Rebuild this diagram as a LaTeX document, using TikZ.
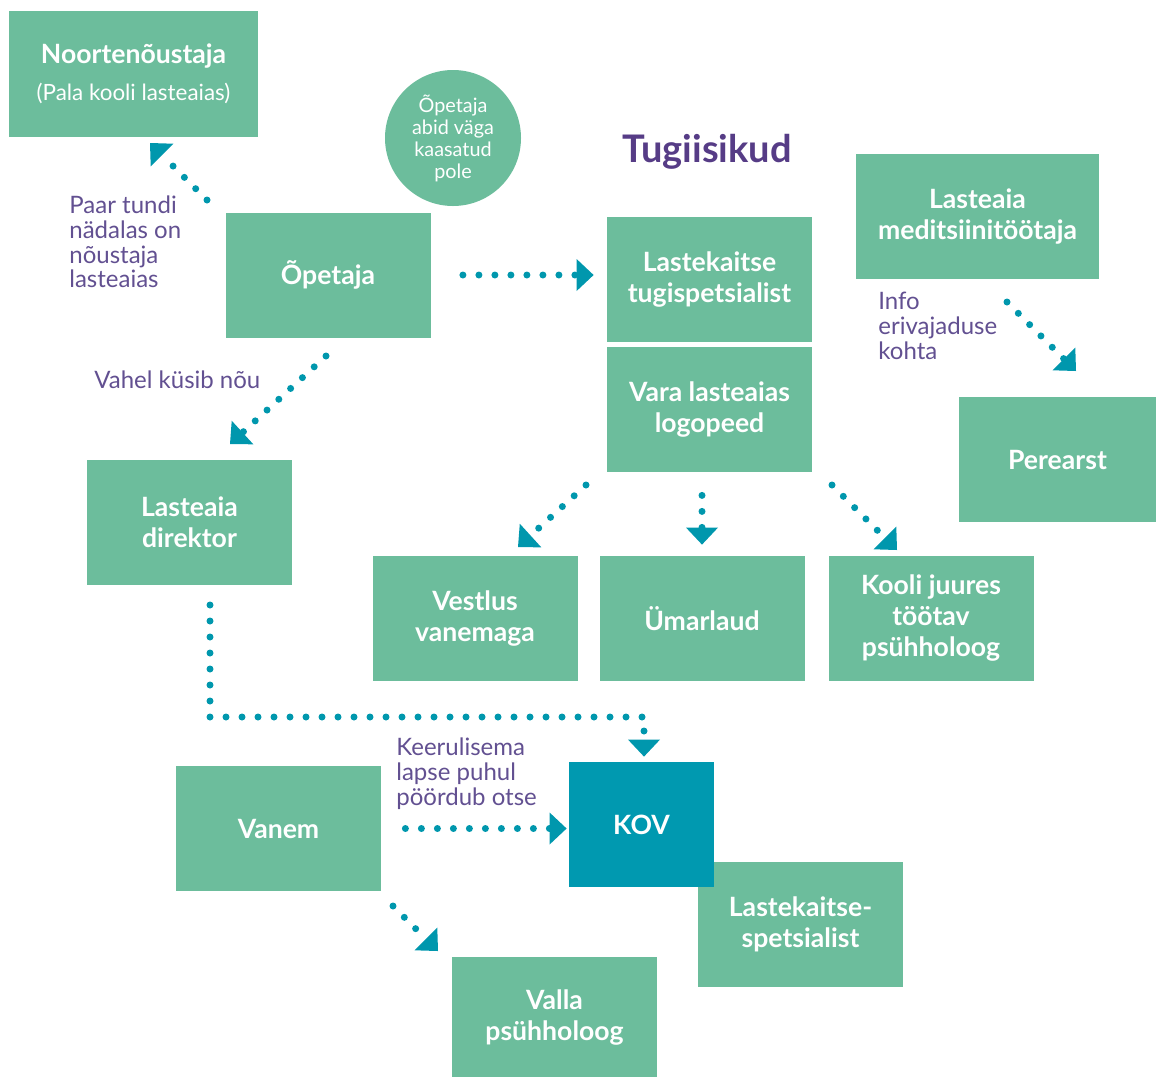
\documentclass[tikz,border=0pt]{standalone}
\usepackage{fontspec}
\setmainfont{Lato}
\usetikzlibrary{arrows.meta}

\definecolor{boxgreen}{RGB}{108,189,156}
\definecolor{kovblue}{RGB}{0,153,176}
\definecolor{arrowblue}{RGB}{0,151,173}
\definecolor{notepurple}{RGB}{98,80,145}
\definecolor{titlepurple}{RGB}{86,60,134}

\tikzset{
	box/.style={fill=boxgreen, text=white, align=center, inner sep=0pt, minimum width=102.5pt, minimum height=62.5pt, font=\bfseries\fontsize{13.3}{15.5}\selectfont},
	note/.style={text=notepurple, align=left, inner sep=0pt, anchor=west, font=\fontsize{12}{12.4}\selectfont},
	dotarrow/.style={draw=arrowblue, line width=3.5pt, line cap=round, dash pattern=on 0pt off 8pt, -{Triangle[length=8.5pt,width=16pt,line width=0pt]}}
}

\begin{document}
\begin{tikzpicture}[x=0.5pt,y=-0.5pt]

	%page frame, same size as the reference
	\useasboundingbox (0,0) rectangle (1156,1077);

	%upper left boxes
	\node[box, minimum width=124.5pt, minimum height=63pt] (noortenoustaja) at (133.5,74) {Noortenõustaja\\[3pt]{\mdseries\fontsize{11.2}{12}\selectfont (Pala kooli lasteaias)}};
	\node[box] (opetaja) at (328,275) {Õpetaja};
	\node[circle, fill=boxgreen, text=white, align=center, inner sep=0pt, minimum size=68pt, font=\fontsize{9.9}{11}\selectfont] (abid) at (453,138) {Õpetaja\\abid väga\\kaasatud\\pole};
	\node[box] (direktor) at (189.5,522.5) {Lasteaia\\direktor};

	%support persons
	\node[text=titlepurple, font=\bfseries\fontsize{19}{22}\selectfont] (tugiisikud) at (707,152) {Tugiisikud};
	\node[box] (lastekaitse) at (709.5,279.5) {Lastekaitse\\tugispetsialist};
	\node[box] (logopeed) at (709.5,409.5) {Vara lasteaias\\logopeed};
	\node[box, minimum width=121.5pt] (meditsiin) at (977.5,216.5) {Lasteaia\\meditsiinitöötaja};
	\node[box, minimum width=98.5pt] (perearst) at (1057.5,459.5) {Perearst};
	\node[box] (vestlus) at (475,618.5) {Vestlus\\vanemaga};
	\node[box] (umarlaud) at (702,618.5) {Ümarlaud};
	\node[box] (psuhholoog) at (931,618.5) {Kooli juures\\töötav\\psühholoog};

	%lower part, KOV drawn last so it lies over its neighbour
	\node[box] (vanem) at (278.5,828.5) {Vanem};
	\node[box] (lkspetsialist) at (800.5,924.5) {Lastekaitse-\\spetsialist};
	\node[box, fill=kovblue, minimum width=72.5pt] (kov) at (641.5,824.5) {KOV};
	\node[box, minimum height=60pt] (valla) at (554.5,1017) {Valla\\psühholoog};

	%notes beside the arrows
	\node[note] (paartundi) at (69,242) {Paar tundi\\nädalas on\\nõustaja\\lasteaias};
	\node[note] (vahel) at (94,380) {Vahel küsib nõu};
	\node[note] (info) at (878,326) {Info\\erivajaduse\\kohta};
	\node[note] (keerulisema) at (396,774) {Keerulisema\\lapse puhul\\pöördub otse};

	%free ends of the slanted arrows
	\coordinate (noorFrom) at (207,200);
	\coordinate (noorTip) at (150,143);
	\coordinate (direkFrom) at (326,356);
	\coordinate (direkTip) at (230,444);
	\coordinate (mediFrom) at (1007,302);
	\coordinate (mediTip) at (1076,371);
	\coordinate (vestFrom) at (586,485);
	\coordinate (vestTip) at (518,547);
	\coordinate (psuhFrom) at (832,485);
	\coordinate (psuhTip) at (897,550);
	\coordinate (vallaFrom) at (393,906);
	\coordinate (vallaTip) at (438,951);
	\coordinate (dirOut) at (210,605);
	\coordinate (kovTurn) at (644,717);

	%arrows
	\draw[dotarrow] (noorFrom) -- (noorTip);
	\draw[dotarrow] (direkFrom) -- (direkTip);
	\draw[dotarrow] (mediFrom) -- (mediTip);
	\draw[dotarrow] (vestFrom) -- (vestTip);
	\draw[dotarrow] (psuhFrom) -- (psuhTip);
	\draw[dotarrow] (vallaFrom) -- (vallaTip);
	\draw[dotarrow, shorten <=16pt, shorten >=6.5pt] (opetaja.east) -- (opetaja.east -| lastekaitse.west);
	\draw[dotarrow, shorten <=11.5pt, shorten >=5.5pt] (umarlaud.north |- logopeed.south) -- (umarlaud.north);
	\draw[dotarrow, shorten <=12pt, shorten >=1pt] (vanem.east) -- (vanem.east -| kov.west);
	\draw[dotarrow, shorten >=2.5pt] (dirOut) |- (kovTurn) -- (kovTurn |- kov.north);

\end{tikzpicture}
\end{document}
